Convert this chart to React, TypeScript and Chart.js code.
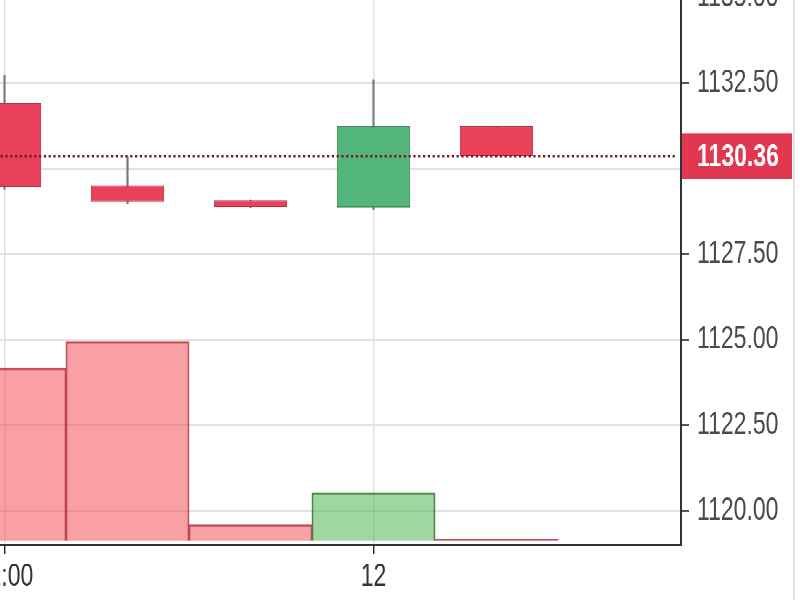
import { useEffect, useRef } from 'react';
import { Chart, registerables } from 'chart.js';

Chart.register(...registerables);

// 4h candles, the view is cropped on the left
const categories = ['11 12:00', '11 16:00', '11 20:00', '12 00:00', '12 04:00', '12 08:00'];
const tickLabels = ['12:00', '', '', '12', '', ''];
const opens = [1131.92, 1129.51, 1129.07, 1128.86, 1131.24];
const closes = [1129.46, 1129.02, 1128.87, 1131.24, 1130.36];
const highs = [1132.72, 1130.35, 1129.07, 1132.58, 1131.24];
const lows = [1129.4, 1128.99, 1128.87, 1128.8, 1130.36];
const volumes = [1724, 1990, 157, 480, 14];
const yTicks = [1120, 1122.5, 1125, 1127.5, 1130, 1132.5, 1135];
const lastPrice = 1130.36;

const FONT = "'Liberation Sans', Arial, sans-serif";
const STRETCH = 1.38;

const isUp = (i: number) => closes[i] >= opens[i];

const priceTag = {
  id: 'priceTag',
  afterDatasetsDraw(chart: any) {
    const { ctx, chartArea } = chart;
    const y = chart.scales.y.getPixelForValue(lastPrice);
    ctx.save();
    ctx.strokeStyle = '#7a1526';
    ctx.lineWidth = 2.2;
    ctx.setLineDash([2.2, 2.6]);
    ctx.beginPath();
    ctx.moveTo(chartArea.left, y);
    ctx.lineTo(chartArea.right - 4, y);
    ctx.stroke();
    ctx.restore();
  },
  afterDraw(chart: any) {
    const { ctx, chartArea } = chart;
    const y = chart.scales.y.getPixelForValue(lastPrice);
    ctx.save();
    ctx.fillStyle = '#e2384f';
    ctx.fillRect(chartArea.right + 1, y - 16.5, 110, 33);
    ctx.fillStyle = '#ffffff';
    ctx.font = `bold 23px ${FONT}`;
    ctx.textBaseline = 'middle';
    ctx.textAlign = 'left';
    ctx.fillText(lastPrice.toFixed(2), chartArea.right + 16, y + 1);
    // faint panel edge on the right
    ctx.strokeStyle = '#e4e4e4';
    ctx.lineWidth = 2;
    ctx.beginPath();
    ctx.moveTo(851, 0);
    ctx.lineTo(851, chart.height);
    ctx.stroke();
    ctx.restore();
  },
};

function CandleChart() {
  const chartRef = useRef<HTMLCanvasElement>(null);

  useEffect(() => {
    if (!chartRef.current) return;
    const ctx = chartRef.current.getContext('2d');
    if (!ctx) return;

    const chart = new Chart(ctx, {
      type: 'bar',
      data: {
        labels: categories,
        datasets: [
          {
            label: 'Body',
            data: opens.map((o, i) => [o, closes[i]]),
            backgroundColor: opens.map((_, i) => (isUp(i) ? '#52b57a' : '#e84159')),
            borderColor: opens.map((_, i) => (isUp(i) ? '#3e8c5d' : '#b83045')),
            borderWidth: 1,
            borderSkipped: false,
            barPercentage: 0.596,
            categoryPercentage: 1,
            grouped: false,
            yAxisID: 'y',
          } as any,
          {
            label: 'Wick',
            data: lows.map((l, i) => [l, highs[i]]),
            backgroundColor: '#7a7a7a',
            barThickness: 1.5,
            grouped: false,
            yAxisID: 'y',
          } as any,
          {
            label: 'Volume',
            data: volumes,
            backgroundColor: volumes.map((_, i) =>
              isUp(i) ? 'rgba(65, 173, 65, 0.5)' : 'rgba(242, 65, 72, 0.5)'
            ),
            borderColor: volumes.map((_, i) =>
              isUp(i) ? 'rgba(60, 110, 60, 0.9)' : 'rgba(160, 40, 55, 0.8)'
            ),
            borderWidth: 1,
            barPercentage: 1,
            categoryPercentage: 1,
            grouped: false,
            yAxisID: 'vol',
          } as any,
        ],
      },
      options: {
        responsive: false,
        animation: false,
        devicePixelRatio: 2,
        layout: { padding: 0 },
        plugins: {
          legend: { display: false },
          tooltip: { enabled: false },
        },
        scales: {
          x: {
            type: 'category',
            offset: true,
            grid: {
              offset: false,
              lineWidth: 1.5,
              color: (c: any) => (tickLabels[c.index] ? '#e2e2e2' : 'rgba(0,0,0,0)'),
              tickColor: (c: any) => (tickLabels[c.index] ? '#333333' : 'rgba(0,0,0,0)'),
              tickLength: 6.5,
            },
            border: { color: '#333333', width: 2 },
            ticks: {
              autoSkip: false,
              maxRotation: 0,
              padding: 3,
              color: '#333333',
              font: { family: FONT, size: 23 },
              callback: (_v: any, i: number) => tickLabels[i],
            },
            afterFit: (s: any) => {
              s.height = 40;
              s.paddingLeft = 0;
              s.paddingRight = 0;
            },
          },
          y: {
            position: 'right',
            min: 1119.0,
            max: 1135.97,
            afterBuildTicks: (s: any) => {
              s.ticks = yTicks.map((value) => ({ value }));
            },
            grid: {
              color: '#e2e2e2',
              lineWidth: 1.5,
              tickColor: '#555555',
              tickLength: 8,
            },
            border: { color: '#333333', width: 2 },
            ticks: {
              autoSkip: false,
              padding: 8,
              color: '#4a4a4a',
              font: { family: FONT, size: 23 },
              callback: (v: any) => Number(v).toFixed(2),
            },
            afterFit: (s: any) => {
              s.width = 120;
              s.paddingTop = 0;
              s.paddingBottom = 0;
            },
          },
          vol: {
            display: false,
            min: -43,
            max: 5757,
          },
        },
      } as any,
      plugins: [priceTag],
    });

    return () => chart.destroy();
  }, []);

  return (
    <canvas
      ref={chartRef}
      width={858}
      height={461}
      style={{ position: 'absolute', left: -57, top: -26, width: 858, height: 461 }}
    />
  );
}

export default function App() {
  return (
    <div
      style={{
        position: 'fixed',
        left: 0,
        top: 0,
        width: 800,
        height: 600 / STRETCH,
        overflow: 'hidden',
        background: '#ffffff',
        transform: `scaleY(${STRETCH})`,
        transformOrigin: '0 0',
      }}
    >
      <CandleChart />
    </div>
  );
}
